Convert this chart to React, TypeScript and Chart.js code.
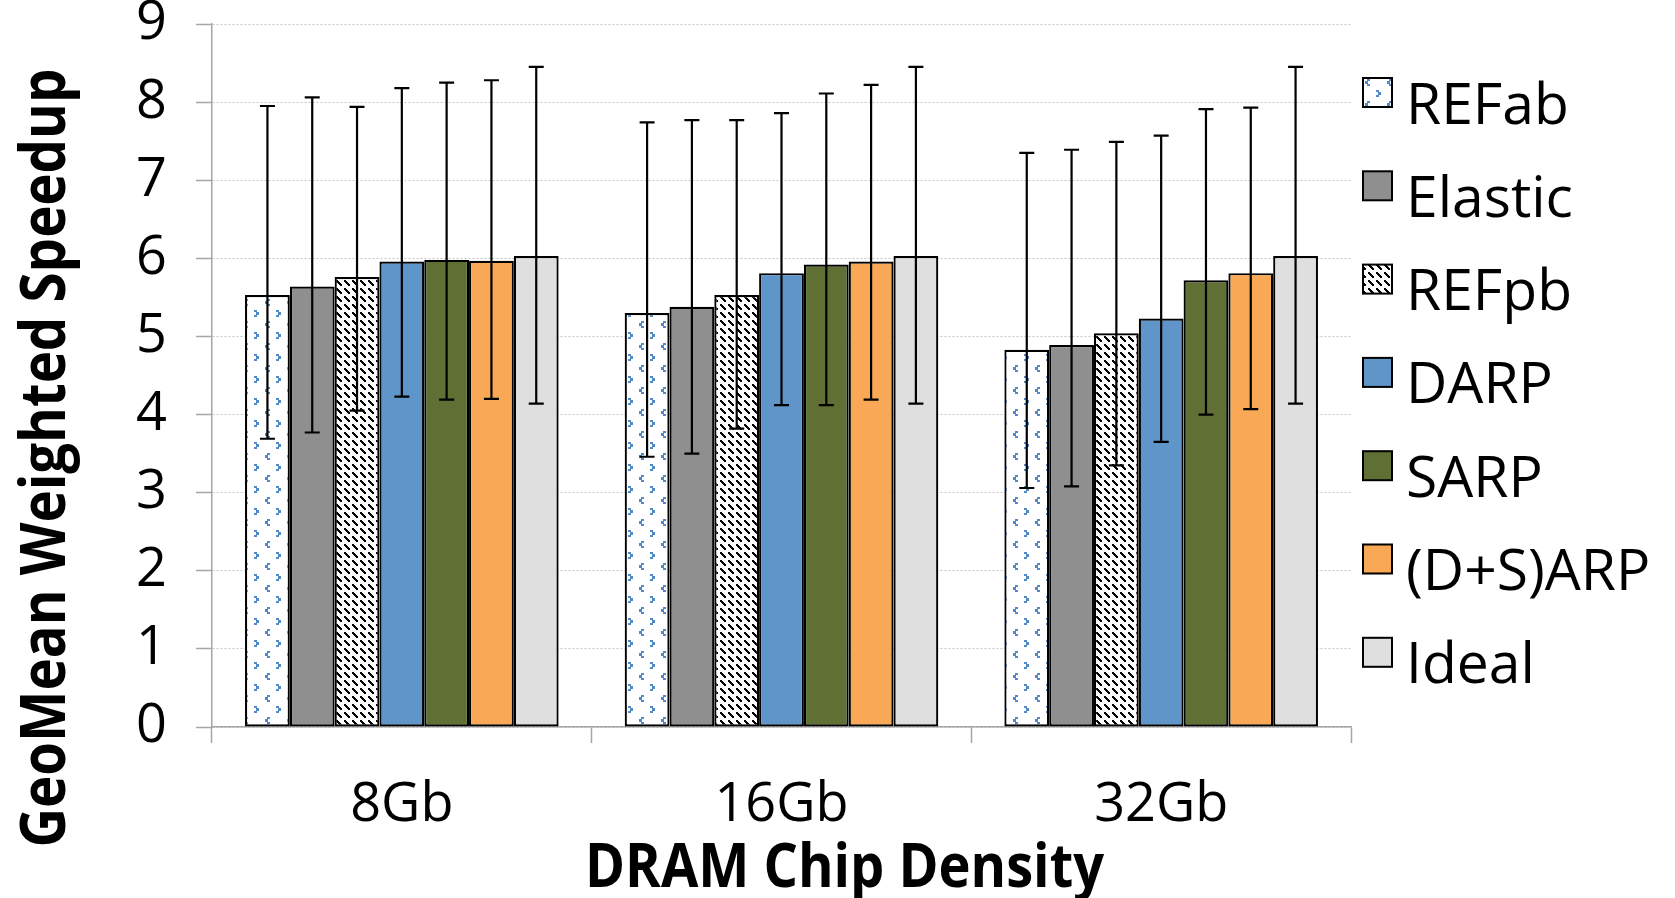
import React, { useEffect, useRef } from 'react';
import { Chart, registerables } from 'chart.js';

Chart.register(...registerables);

// ---------- data ----------
const categories = ['8Gb', '16Gb', '32Gb'];
const seriesNames = ['REFab', 'Elastic', 'REFpb', 'DARP', 'SARP', '(D+S)ARP', 'Ideal'];

const refabValues = [5.53, 5.30, 4.83];
const elasticValues = [5.64, 5.38, 4.89];
const refpbValues = [5.76, 5.53, 5.04];
const darpValues = [5.96, 5.81, 5.23];
const sarpValues = [5.98, 5.92, 5.72];
const dsarpValues = [5.97, 5.96, 5.81];
const idealValues = [6.03, 6.03, 6.03];

const refabHigh = [7.95, 7.74, 7.35];
const elasticHigh = [8.06, 7.77, 7.39];
const refpbHigh = [7.94, 7.77, 7.49];
const darpHigh = [8.18, 7.86, 7.57];
const sarpHigh = [8.25, 8.11, 7.91];
const dsarpHigh = [8.28, 8.22, 7.93];
const idealHigh = [8.45, 8.45, 8.45];

const refabLow = [3.69, 3.46, 3.06];
const elasticLow = [3.77, 3.50, 3.08];
const refpbLow = [4.05, 3.82, 3.35];
const darpLow = [4.23, 4.12, 3.65];
const sarpLow = [4.19, 4.12, 4.00];
const dsarpLow = [4.20, 4.19, 4.07];
const idealLow = [4.14, 4.14, 4.14];

const yMin = 0;
const yMax = 9;
const yStep = 1;

const xTitle = 'DRAM Chip Density';
const yTitle = 'GeoMean Weighted Speedup';

const seriesValues = [refabValues, elasticValues, refpbValues, darpValues, sarpValues, dsarpValues, idealValues];
const seriesHigh = [refabHigh, elasticHigh, refpbHigh, darpHigh, sarpHigh, dsarpHigh, idealHigh];
const seriesLow = [refabLow, elasticLow, refpbLow, darpLow, sarpLow, dsarpLow, idealLow];

// ---------- styles ----------
const FONT = "'Open Sans', 'DejaVu Sans', sans-serif";
const AXIS_GRAY = '#a6a6a6';

function makeChevronPattern(): CanvasPattern | string {
  const c = document.createElement('canvas');
  c.width = 22;
  c.height = 22;
  const g = c.getContext('2d');
  if (!g) return '#ffffff';
  g.fillStyle = '#ffffff';
  g.fillRect(0, 0, 22, 22);
  g.fillStyle = '#4f8ac6';
  const chevR = (x: number, y: number) => {
    g.fillRect(x, y, 3, 2);
    g.fillRect(x + 2, y + 2, 3, 3);
    g.fillRect(x, y + 5, 3, 2);
  };
  const chevL = (x: number, y: number) => {
    g.fillRect(x + 2, y, 3, 2);
    g.fillRect(x, y + 2, 3, 3);
    g.fillRect(x + 2, y + 5, 3, 2);
  };
  chevR(12, 2);
  chevL(1, 13);
  const p = g.createPattern(c, 'repeat');
  return p || '#ffffff';
}

function makeDiagPattern(): CanvasPattern | string {
  const c = document.createElement('canvas');
  c.width = 8;
  c.height = 8;
  const g = c.getContext('2d');
  if (!g) return '#ffffff';
  g.fillStyle = '#ffffff';
  g.fillRect(0, 0, 8, 8);
  g.fillStyle = '#000000';
  for (let k = 0; k <= 4; k++) g.fillRect(k, k, 2, 2);
  const p = g.createPattern(c, 'repeat');
  return p || '#ffffff';
}

function zeroPadding(s: any) {
  s.paddingTop = 0;
  s.paddingBottom = 0;
  s.paddingLeft = 0;
  s.paddingRight = 0;
}

export default function App() {
  const canvasRef = useRef<HTMLCanvasElement | null>(null);

  useEffect(() => {
    const canvas = canvasRef.current;
    if (!canvas) return;

    const fills: any[] = [
      makeChevronPattern(),
      '#8f8f8f',
      makeDiagPattern(),
      '#5f95c8',
      '#607034',
      '#f9a855',
      '#dfdfdf',
    ];

    const extras = {
      id: 'extras',
      afterDatasetsDraw(chart: any) {
        const ctx = chart.ctx as CanvasRenderingContext2D;
        const ys = chart.scales.y;
        ctx.save();
        ctx.strokeStyle = '#000000';
        ctx.lineWidth = 2.2;
        seriesNames.forEach((_, i) => {
          const meta = chart.getDatasetMeta(i);
          meta.data.forEach((bar: any, j: number) => {
            const x = bar.x;
            const yh = ys.getPixelForValue(seriesHigh[i][j]);
            const yl = ys.getPixelForValue(seriesLow[i][j]);
            ctx.beginPath();
            ctx.moveTo(x, yl);
            ctx.lineTo(x, yh);
            ctx.moveTo(x - 7.5, yh);
            ctx.lineTo(x + 7.5, yh);
            ctx.moveTo(x - 7.5, yl);
            ctx.lineTo(x + 7.5, yl);
            ctx.stroke();
          });
        });
        ctx.restore();
      },
      afterDraw(chart: any) {
        const ctx = chart.ctx as CanvasRenderingContext2D;
        // legend
        ctx.save();
        seriesNames.forEach((name, i) => {
          const top = 78 + 93.3 * i;
          ctx.fillStyle = fills[i];
          ctx.fillRect(1363, top, 29, 29);
          ctx.strokeStyle = '#000000';
          ctx.lineWidth = 2;
          ctx.strokeRect(1363, top, 29, 29);
          ctx.fillStyle = '#000000';
          ctx.font = `57px ${FONT}`;
          ctx.textAlign = 'left';
          ctx.textBaseline = 'alphabetic';
          ctx.fillText(name, 1406, 123.5 + 93.3 * i);
        });
        ctx.restore();

        // y title
        ctx.save();
        ctx.fillStyle = '#000000';
        ctx.font = `bold 63px ${FONT}`;
        const wy = ctx.measureText(yTitle).width;
        ctx.translate(65, 458);
        ctx.rotate(-Math.PI / 2);
        ctx.scale(779 / wy, 1);
        ctx.textAlign = 'center';
        ctx.textBaseline = 'alphabetic';
        ctx.fillText(yTitle, 0, 0);
        ctx.restore();

        // x title
        ctx.save();
        ctx.fillStyle = '#000000';
        ctx.font = `bold 61px ${FONT}`;
        const wx = ctx.measureText(xTitle).width;
        ctx.translate(844.5, 887);
        ctx.scale(519 / wx, 1);
        ctx.textAlign = 'center';
        ctx.textBaseline = 'alphabetic';
        ctx.fillText(xTitle, 0, 0);
        ctx.restore();
      },
    };

    const chart = new Chart(canvas, {
      type: 'bar',
      data: {
        labels: categories,
        datasets: seriesNames.map((name, i) => ({
          label: name,
          data: seriesValues[i],
          backgroundColor: fills[i],
          borderColor: '#000000',
          borderWidth: 2.2,
          borderSkipped: false,
          categoryPercentage: 0.826,
          barPercentage: 1,
        })),
      },
      options: {
        responsive: false,
        animation: false,
        layout: { padding: { left: 0, top: 24, right: 324, bottom: 0 } },
        plugins: {
          legend: { display: false },
          tooltip: { enabled: false },
          title: { display: false },
        },
        scales: {
          x: {
            grid: {
              display: true,
              offset: true,
              drawOnChartArea: false,
              drawTicks: true,
              tickLength: 16,
              color: AXIS_GRAY,
              tickColor: AXIS_GRAY,
              tickWidth: 1.5,
            },
            border: { display: true, color: AXIS_GRAY, width: 1.5 },
            ticks: {
              color: '#000000',
              font: { family: FONT, size: 54 },
              padding: 30,
              maxRotation: 0,
            },
            afterFit: (s: any) => {
              zeroPadding(s);
              s.height = 171;
            },
          },
          y: {
            min: yMin,
            max: yMax,
            ticks: {
              stepSize: yStep,
              color: '#000000',
              font: { family: FONT, size: 54, lineHeight: 0.8 },
              padding: 29,
            },
            grid: {
              color: '#c4c4c4',
              lineWidth: 1,
              tickLength: 16,
              tickColor: AXIS_GRAY,
              tickWidth: 1.5,
              tickBorderDash: [],
            },
            border: { display: true, color: AXIS_GRAY, width: 1.5, dash: [2, 2] },
            afterFit: (s: any) => {
              zeroPadding(s);
              s.width = 212;
            },
          },
        },
      },
      plugins: [extras],
    });

    return () => {
      chart.destroy();
    };
  }, []);

  return (
    <div style={{ position: 'fixed', left: 0, top: 0, width: 1675, height: 898, background: '#ffffff' }}>
      <canvas ref={canvasRef} width={1675} height={898} style={{ display: 'block' }} />
    </div>
  );
}
